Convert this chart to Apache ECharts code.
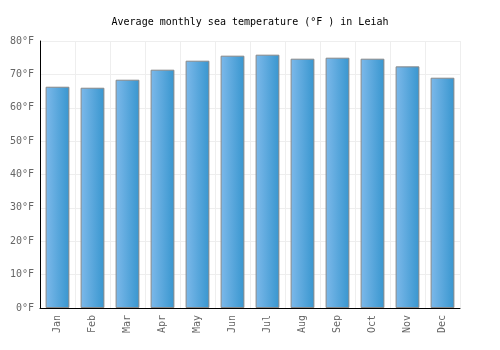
<!DOCTYPE html>
<html>
<head>
<meta charset="utf-8">
<script src="https://cdn.jsdelivr.net/npm/echarts@6/dist/echarts.min.js"></script>
<style>
  html, body { margin: 0; padding: 0; background: #fff; }
  #chart { width: 500px; height: 350px; }
</style>
</head>
<body>
<div id="chart"></div>
<script>
var months = ["Jan", "Feb", "Mar", "Apr", "May", "Jun", "Jul", "Aug", "Sep", "Oct", "Nov", "Dec"];
var seaTemp = [66.3, 66.0, 68.4, 71.4, 74.1, 75.6, 75.9, 74.7, 75.0, 74.7, 72.4, 69.0];
var titleText = "Average monthly sea temperature (°F ) in Leiah";

window.onload = function(){
  var myChart = echarts.init(document.getElementById("chart"));
  var font = "DejaVu Sans Mono";
  myChart.setOption({
    animation: false,
    title: {
      text: titleText,
      left: "center",
      top: 12,
      textStyle: { fontFamily: font, fontSize: 10, fontWeight: "normal", color: "#000" }
    },
    grid: { left: 40, right: 40, top: 41, bottom: 42 },
    xAxis: {
      type: "category",
      data: months,
      axisLine: { lineStyle: { color: "#000" } },
      axisTick: { show: false },
      axisLabel: { rotate: 90, color: "#666", fontFamily: font, fontSize: 10, margin: 7 },
      splitLine: { show: true, lineStyle: { color: "#eee" } }
    },
    yAxis: {
      type: "value",
      min: 0,
      max: 80,
      interval: 10,
      axisLine: { show: true, lineStyle: { color: "#000" } },
      axisTick: { show: false },
      axisLabel: { color: "#666", fontFamily: font, fontSize: 10, formatter: "{value}°F", margin: 6 },
      splitLine: { lineStyle: { color: "#eee" } }
    },
    series: [{
      type: "bar",
      data: seaTemp,
      barWidth: "68%",
      itemStyle: {
        borderColor: "#888",
        borderWidth: 1,
        color: new echarts.graphic.LinearGradient(0, 0, 1, 0, [
          { offset: 0, color: "#7db9ea" },
          { offset: 1, color: "#3896cf" }
        ])
      }
    }]
  });
};
</script>
</body>
</html>
